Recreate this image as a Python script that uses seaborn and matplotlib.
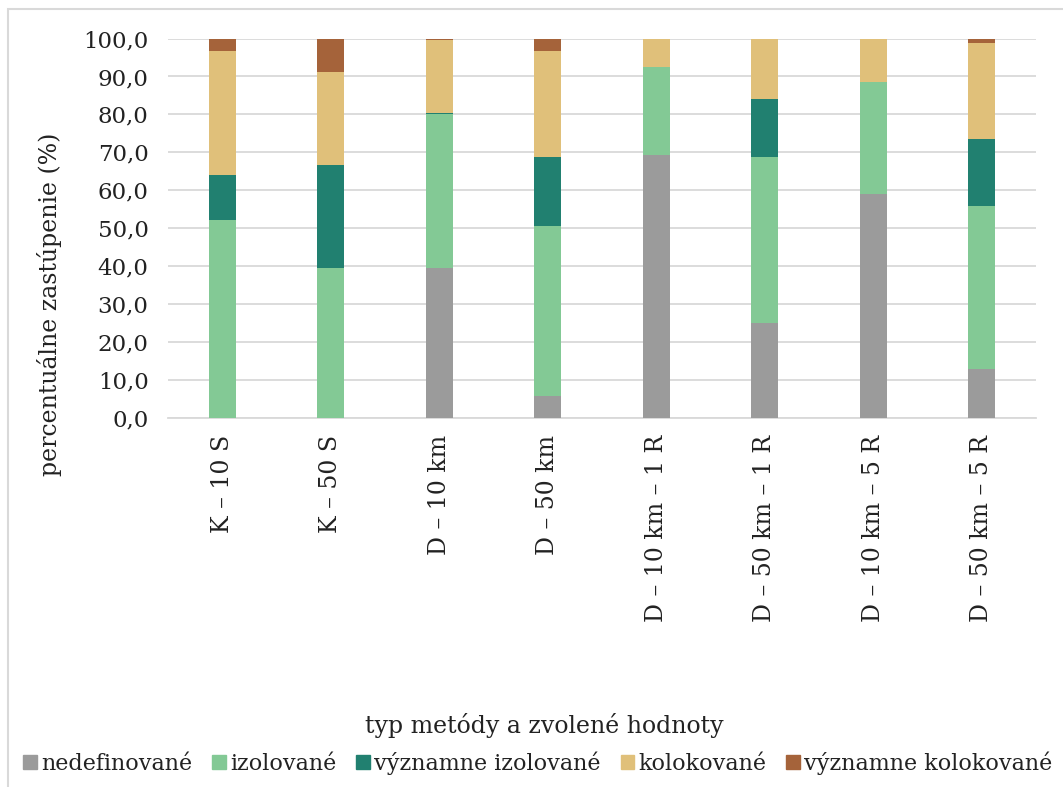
import matplotlib
matplotlib.use("Agg")
import matplotlib.pyplot as plt
import matplotlib.patches as mpatches
import numpy as np
import pandas as pd
import seaborn as sns

# Method / parameter combinations on the x axis
categories = ["K – 10 S", "K – 50 S", "D – 10 km", "D – 50 km",
              "D – 10 km – 1 R", "D – 50 km – 1 R", "D – 10 km – 5 R", "D – 50 km – 5 R"]

# Percentage share of each class (%)
nedefinovane = [0.0, 0.0, 39.6, 5.9, 69.3, 25.1, 58.9, 13.0]
izolovane = [52.1, 39.6, 40.4, 44.8, 23.2, 43.6, 29.6, 42.8]
vyznamne_izolovane = [11.8, 27.0, 0.5, 18.0, 0.0, 15.4, 0.0, 17.6]
kolokovane = [32.9, 24.5, 19.1, 28.1, 7.5, 15.9, 11.5, 25.5]
vyznamne_kolokovane = [3.2, 8.9, 0.4, 3.2, 0.0, 0.0, 0.0, 1.1]

series_names = ["nedefinované", "izolované", "významne izolované",
                "kolokované", "významne kolokované"]
series_values = [nedefinovane, izolovane, vyznamne_izolovane,
                 kolokovane, vyznamne_kolokovane]
colors = ["#9B9B9B", "#83C995", "#218070", "#E0C07A", "#A5633A"]

sns.set_theme(style="white")
plt.rcParams["font.family"] = ["DejaVu Serif"]

fig = plt.figure(figsize=(10.63, 7.87), dpi=100)
ax = fig.add_axes([168 / 1063, 1 - 418 / 787, 868 / 1063, 379.5 / 787])

# Stacked bars: draw cumulative totals from the top segment down
cum = np.cumsum(np.array(series_values), axis=0)
for i in range(len(series_names) - 1, -1, -1):
    df = pd.DataFrame({"kategoria": categories, "hodnota": cum[i]})
    sns.barplot(data=df, x="kategoria", y="hodnota", color=colors[i],
                width=0.25, linewidth=0, saturation=1, ax=ax, zorder=3)

ax.set_ylim(0, 100)
ax.set_xlim(-0.5, len(categories) - 0.5)
ax.set_yticks(np.arange(0, 101, 10))
ax.set_yticklabels([f"{v:.1f}".replace(".", ",") for v in np.arange(0, 101, 10)],
                   fontsize=16.5, color="#222222")
ax.set_xticks(range(len(categories)))
ax.set_xticklabels(categories, rotation=90, fontsize=17, color="#222222",
                   va="top", ha="center")
ax.tick_params(axis="both", length=0)
ax.tick_params(axis="y", pad=14)
ax.tick_params(axis="x", pad=12)

ax.yaxis.grid(True, color="#D9D9D9", linewidth=1.3, zorder=0)
ax.set_axisbelow(True)
for side in ["top", "right", "left"]:
    ax.spines[side].set_visible(False)
ax.spines["bottom"].set_color("#D9D9D9")
ax.spines["bottom"].set_linewidth(1.3)

ax.set_xlabel("typ metódy a zvolené hodnoty", fontsize=17, color="#222222")
ax.set_ylabel("percentuálne zastúpenie (%)", fontsize=17, color="#222222")
ax.xaxis.set_label_coords(0.434, -0.777)
ax.yaxis.set_label_coords(-0.122, 0.30)

handles = [mpatches.Patch(color=c, label=n) for c, n in zip(colors, series_names)]
fig.legend(handles=handles, loc="center", bbox_to_anchor=(538 / 1063, 1 - 763 / 787),
           ncol=5, frameon=False, fontsize=16, handlelength=0.6, handleheight=0.6,
           handletextpad=0.2, columnspacing=0.9, labelcolor="#222222")

# Light chart-area frame
fig.patches.append(mpatches.Rectangle((8 / 1063, -0.1), 1.2, 1 - 9 / 787 + 0.1,
                                      transform=fig.transFigure, fill=False,
                                      edgecolor="#D9D9D9", linewidth=1.5))

fig.savefig("out.png", dpi=100, facecolor="white")
